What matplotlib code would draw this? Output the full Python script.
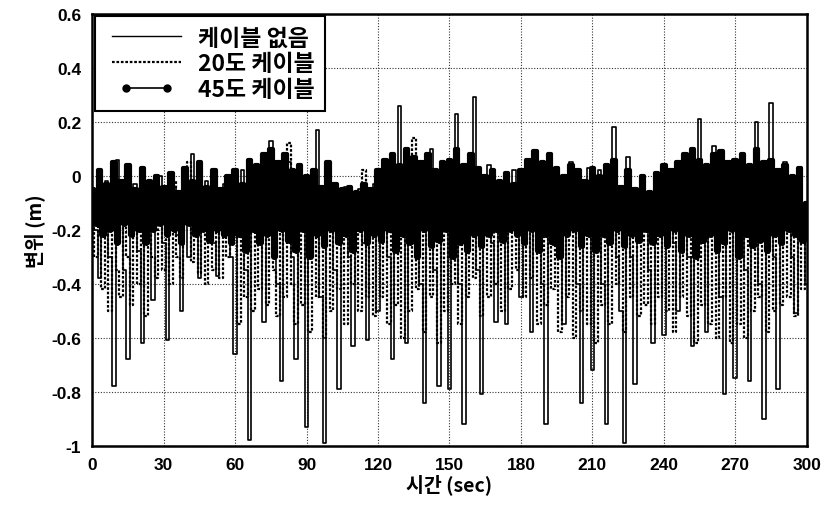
import matplotlib
matplotlib.use("Agg")
import matplotlib.pyplot as plt
from matplotlib.legend_handler import HandlerLine2D
import numpy as np

plt.rcParams['font.family'] = ['Noto Sans CJK KR', 'DejaVu Sans']

# time axis: one value every 1.5 s from 0 to 300 s
dt = 1.5

# 케이블 없음 (no cable)
no_cable = [
    -0.05, -0.2, -0.38, -0.12, -0.02, -0.3, -0.78, 0.06, -0.1, -0.35, -0.68, -0.15, -0.03, -0.28, -0.62, -0.08, -0.2, -0.46, -0.1, 0.0,
    -0.25, -0.61, -0.12, -0.04, -0.22, -0.5, -0.1, -0.3, 0.08, -0.15, -0.38, -0.06, -0.02, -0.18, -0.25, -0.37, -0.08, -0.03, -0.15, -0.3,
    -0.66, -0.1, 0.02, -0.35, -0.98, -0.2, 0.04, -0.25, -0.54, -0.05, 0.13, -0.15, -0.4, -0.76, -0.08, 0.05, -0.3, -0.68, -0.1, -0.02,
    -0.93, -0.15, 0.0, 0.17, -0.45, -0.99, -0.2, -0.05, -0.35, -0.79, -0.1, -0.04, -0.3, -0.63, -0.12, -0.05, -0.25, -0.61, -0.1, -0.03,
    -0.5, -0.1, 0.02, -0.3, -0.68, -0.05, 0.26, -0.2, -0.62, -0.1, 0.05, -0.2, -0.4, -0.84, -0.12, 0.1, -0.35, -0.78, -0.05, 0.03,
    -0.79, -0.1, 0.23, -0.4, -0.92, -0.15, 0.05, 0.29, -0.35, -0.81, -0.1, 0.04, -0.25, -0.54, -0.08, -0.2, -0.55, -0.06, 0.02, -0.2,
    -0.45, -0.05, -0.2, -0.58, -0.08, 0.03, -0.4, -0.92, -0.15, 0.02, -0.1, -0.3, -0.55, -0.08, 0.05, -0.15, -0.4, -0.84, -0.1, 0.03,
    -0.72, -0.12, 0.02, -0.4, -0.92, -0.1, 0.18, -0.3, -0.5, -0.99, 0.07, -0.3, -0.77, -0.1, 0.0, -0.2, -0.35, -0.62, -0.08, -0.02,
    -0.59, -0.1, -0.03, -0.25, -0.5, -0.08, 0.02, -0.3, -0.63, -0.06, 0.21, -0.25, -0.58, -0.1, 0.11, -0.2, -0.45, -0.81, -0.1, 0.04,
    -0.75, -0.1, 0.02, -0.35, -0.76, -0.05, 0.2, -0.4, -0.9, -0.08, 0.27, -0.3, -0.79, -0.1, 0.05, -0.2, -0.3, -0.51, -0.05, -0.1,
    -0.4,
]

# 20도 케이블
cable_20 = [
    -0.1, -0.3, -0.05, -0.42, -0.15, -0.5, -0.08, -0.35, -0.45, -0.1, -0.3, -0.48, -0.05, -0.4, -0.15, -0.52, -0.1, -0.3, -0.38, -0.05,
    -0.35, -0.12, -0.4, -0.02, -0.3, -0.38, -0.1, 0.05, -0.32, -0.15, -0.36, -0.05, -0.4, -0.2, -0.35, -0.08, -0.38, -0.12, -0.3, -0.05,
    -0.1, -0.55, -0.2, -0.45, 0.0, -0.5, -0.15, -0.42, -0.08, -0.48, 0.05, -0.35, -0.52, -0.1, -0.45, 0.12, -0.4, -0.55, -0.15, -0.48,
    -0.05, -0.58, -0.2, -0.45, -0.1, -0.6, 0.0, -0.5, -0.15, -0.42, -0.08, -0.55, -0.05, -0.4, -0.12, -0.5, 0.02, -0.45, -0.1, -0.52,
    -0.08, -0.45, -0.15, -0.55, 0.05, -0.48, -0.12, -0.6, -0.05, -0.5, 0.14, -0.42, -0.15, -0.58, -0.05, -0.45, -0.1, -0.62, -0.08, -0.5,
    -0.12, -0.4, 0.05, -0.55, -0.1, -0.45, -0.05, -0.38, -0.12, -0.52, -0.03, -0.45, -0.1, -0.4, -0.15, -0.5, -0.05, -0.42, -0.1, -0.35,
    -0.08, -0.45, -0.15, -0.38, -0.05, -0.55, -0.12, -0.48, 0.0, -0.42, -0.1, -0.58, -0.05, -0.45, -0.15, -0.6, 0.02, -0.5, -0.1, -0.55,
    -0.05, -0.62, -0.15, -0.48, 0.0, -0.55, -0.1, -0.4, -0.08, -0.58, -0.12, -0.45, -0.05, -0.52, -0.15, -0.48, -0.08, -0.55, -0.1, -0.45,
    -0.12, -0.5, -0.05, -0.58, -0.15, -0.45, -0.08, -0.52, -0.1, -0.62, 0.05, -0.48, -0.12, -0.55, -0.05, -0.6, -0.1, -0.45, -0.15, -0.62,
    -0.05, -0.55, -0.1, -0.6, -0.08, -0.5, 0.09, -0.45, -0.12, -0.58, -0.05, -0.5, -0.1, -0.48, -0.15, -0.45, -0.05, -0.52, -0.1, -0.42,
    -0.15,
]

# 45도 케이블
cable_45 = [
    -0.05, -0.18, 0.02, -0.22, -0.03, -0.2, 0.05, -0.25, -0.02, -0.18, 0.04, -0.22, -0.05, -0.2, 0.03, -0.25, -0.02, -0.2, 0.0, -0.18,
    -0.04, -0.22, 0.01, -0.2, -0.06, -0.25, 0.03, -0.18, -0.02, -0.22, 0.05, -0.2, -0.04, -0.24, 0.02, -0.2, -0.05, -0.22, 0.0, -0.25,
    0.02, -0.22, -0.03, -0.28, 0.06, -0.2, 0.04, -0.25, 0.08, -0.22, 0.1, -0.3, 0.05, -0.2, 0.08, -0.24, 0.02, -0.28, 0.04, -0.2,
    0.0, -0.3, 0.02, -0.22, -0.04, -0.26, 0.05, -0.2, -0.03, -0.25, -0.05, -0.22, -0.04, -0.28, -0.06, -0.2, -0.03, -0.25, -0.05, -0.22,
    0.02, -0.24, 0.06, -0.2, 0.08, -0.28, 0.04, -0.22, 0.1, -0.25, 0.07, -0.3, 0.05, -0.2, 0.08, -0.26, 0.02, -0.24, 0.05, -0.2,
    0.06, -0.3, 0.1, -0.25, 0.04, -0.28, 0.08, -0.22, 0.03, -0.26, 0.0, -0.22, 0.02, -0.2, -0.02, -0.24, 0.01, -0.2, -0.03, -0.22,
    0.02, -0.25, 0.06, -0.2, 0.09, -0.28, 0.05, -0.22, 0.08, -0.25, 0.03, -0.3, 0.0, -0.22, 0.04, -0.2, 0.02, -0.26, -0.02, -0.22,
    0.03, -0.28, 0.0, -0.22, 0.04, -0.25, 0.06, -0.2, -0.04, -0.26, 0.02, -0.22, -0.05, -0.24, 0.0, -0.2, -0.06, -0.25, 0.01, -0.22,
    0.04, -0.26, 0.02, -0.2, 0.05, -0.28, 0.08, -0.22, 0.1, -0.3, 0.06, -0.24, 0.04, -0.22, 0.08, -0.28, 0.09, -0.25, 0.05, -0.2,
    0.06, -0.3, 0.08, -0.22, 0.04, -0.26, 0.1, -0.24, 0.05, -0.28, 0.06, -0.22, 0.02, -0.25, 0.04, -0.2, 0.0, -0.22, 0.03, -0.24,
    -0.1,
]

labels = ['케이블 없음', '20도 케이블', '45도 케이블']
x_ticks = [0, 30, 60, 90, 120, 150, 180, 210, 240, 270, 300]
y_ticks = [0.6, 0.4, 0.2, 0, -0.2, -0.4, -0.6, -0.8, -1]
y_tick_labels = ['0.6', '0.4', '0.2', '0', '-0.2', '-0.4', '-0.6', '-0.8', '-1']

t = np.arange(len(no_cable)) * dt

fig = plt.figure(figsize=(8.24, 5.10), dpi=100)
ax = fig.add_axes([0.112, 0.124, 0.867, 0.847])

l45, = ax.plot(t, cable_45, color='black', lw=3.0, marker='o', ms=2.6,
               drawstyle='steps-mid', label=labels[2], zorder=3)
l20, = ax.plot(t, cable_20, color='black', lw=1.6, ls=(0, (1.2, 0.8)),
               drawstyle='steps-mid', label=labels[1], zorder=4)
l0, = ax.plot(t, no_cable, color='black', lw=1.2,
              drawstyle='steps-mid', label=labels[0], zorder=5)

ax.set_xlim(0, 300)
ax.set_ylim(-1, 0.6)
ax.set_xticks(x_ticks)
ax.set_yticks(y_ticks)
ax.set_yticklabels(y_tick_labels)
ax.tick_params(length=0, labelsize=12.5, pad=8)
for lab in ax.get_xticklabels() + ax.get_yticklabels():
    lab.set_family(['Liberation Sans', 'DejaVu Sans'])
    lab.set_fontweight('bold')

ax.grid(True, color='#333333', ls=(0, (1, 1.5)), lw=0.8)
ax.set_axisbelow(True)
for sp in ax.spines.values():
    sp.set_linewidth(1.8)

ax.set_xlabel('시간 (sec)', fontsize=14, fontweight='bold', labelpad=1)
ax.set_ylabel('변위 (m)', fontsize=14, fontweight='bold', labelpad=4)

leg = ax.legend([l0, l20, l45], labels, loc='upper left',
                prop={'size': 16.5, 'weight': 'bold'},
                handlelength=3.6, numpoints=2, fancybox=False, framealpha=1,
                edgecolor='black', borderpad=0.45, labelspacing=0.12,
                borderaxespad=0.1, handletextpad=0.45,
                handler_map={l45: HandlerLine2D(marker_pad=0.9)})
leg.get_frame().set_linewidth(1.5)
leg.legend_handles[0].set_linewidth(1.0)
leg.legend_handles[2].set_linewidth(1.2)
leg.legend_handles[2].set_markersize(5)
leg.set_zorder(10)

fig.savefig('out.png', dpi=100)
